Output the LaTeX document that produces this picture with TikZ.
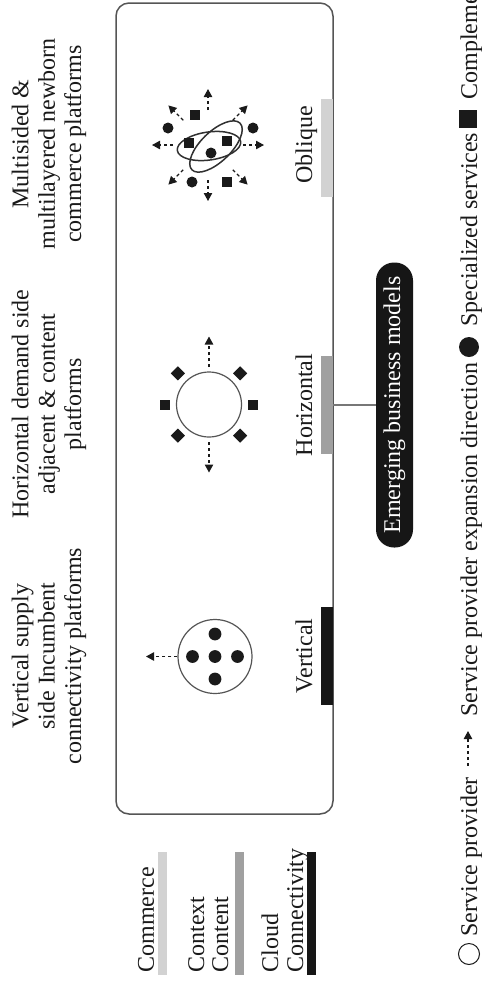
\documentclass[tikz,border=0pt]{standalone}
\usepackage{fontspec}
\setmainfont{Liberation Serif}
\usetikzlibrary{arrows.meta,calc}
\definecolor{ink}{HTML}{1A1A1A}
\definecolor{lgray}{HTML}{D2D2D2}
\definecolor{mgray}{HTML}{A0A0A0}
\definecolor{bgray}{HTML}{161616}
\definecolor{edge}{HTML}{555555}
\begin{document}
\begin{tikzpicture}[x=0.5pt,y=-0.5pt,
  txt/.style={rotate=90, inner sep=0pt, font=\fontsize{12}{13.2}\selectfont, text=ink},
  exparrow/.style={draw=ink, line width=0.6pt, dash pattern=on 1.6pt off 1.4pt, -{Triangle[length=4pt,width=4.2pt]}},
  sqm/.style={rectangle, fill=ink, minimum size=5pt, inner sep=0pt},
  dmm/.style={sqm, rotate=45},
  dotm/.style={circle, fill=ink, minimum size=5.5pt, inner sep=0pt},
  bigdot/.style={circle, fill=ink, minimum size=6.4pt, inner sep=0pt},
  ell/.style={draw=ink!90, line width=0.75pt},
  ring/.style={circle, draw=edge, line width=0.6pt, inner sep=0pt},
  barm/.style={rectangle, inner sep=0pt, minimum width=6pt, minimum height=49pt},
  legbar/.style={rectangle, inner sep=0pt, minimum width=4.5pt, minimum height=61.5pt},
  conn/.style={draw=edge!80, line width=0.8pt}]
\useasboundingbox (0,0) rectangle (482,982);
\clip (0,0) rectangle (482,982);
\fill[white] (0,0) rectangle (482,982);

% main frame
\node[draw=edge, line width=0.75pt, rounded corners=6.5pt, minimum width=108.5pt, minimum height=405.5pt, inner sep=0pt] (frame) at (224.5,408.5) {};

% top labels
\node[txt, align=center] (tl1) at (49,144) {Multisided \&\\multilayered newborn\\commerce platforms};
\node[txt, align=center] (tl2) at (49,404) {Horizontal demand side\\adjacent \& content\\platforms};
\node[txt, align=center] (tl3) at (49,656) {Vertical supply\\side Incumbent\\connectivity platforms};

% bars on the frame
\node[barm, fill=lgray] (obar) at (327,147.5) {};
\node[barm, fill=mgray] (hbar) at (327,405) {};
\node[barm, fill=bgray] (vbar) at (327,656) {};
\node[txt, anchor=base] (lob) at (312,145) {Oblique};
\node[txt, anchor=base] (lhz) at (312,405) {Horizontal};
\node[txt, anchor=base] (lvt) at (312,656) {Vertical};

% pill
\node[rotate=90, fill=bgray, text=white, rounded corners=9pt, minimum width=142.5pt, minimum height=18.5pt, inner sep=0pt, font=\fontsize{12}{13.2}\selectfont] (pill) at (394.5,405) {Emerging business models};
\draw[conn] (hbar.east) -- (pill.north);

% oblique icon
\coordinate (ob) at (208,145);
\draw[ell, rotate around={8:(209,146)}] (209,146) ellipse [x radius=32, y radius=14];
\draw[ell, rotate around={44:(216,146.5)}] (216,146.5) ellipse [x radius=33.5, y radius=15];
\foreach \a in {0,45,...,315}{
  \draw[exparrow] ($(ob)+(\a:35)$) -- ($(ob)+(\a:56)$);
}
\foreach \p [count=\i] in {(195,115),(189,143),(227,141),(227,182)}{
  \node[sqm] (osq\i) at \p {};
}
\foreach \p [count=\i] in {(168,128),(253,128),(211,153),(192,182)}{
  \node[dotm] (odt\i) at \p {};
}

% horizontal icon
\coordinate (hz) at (209,404.5);
\node[ring, minimum size=32.5pt] (hcirc) at (hz) {};
\foreach \a in {90,270}{
  \draw[exparrow] ($(hz)+(\a:37.5)$) -- ($(hz)+(\a:68)$);
}
\node[sqm] (hsq1) at ($(hz)+(0:44)$) {};
\node[sqm] (hsq2) at ($(hz)+(180:44)$) {};
\foreach \a [count=\i] in {45,135,225,315}{
  \node[dmm] (hdm\i) at ($(hz)+(\a:44)$) {};
}

% vertical icon
\coordinate (vt) at (215,656.5);
\node[ring, minimum size=37pt] (vcirc) at (vt) {};
\node[bigdot] (vd0) at (vt) {};
\foreach \a [count=\i] in {0,90,180,270}{
  \node[bigdot] (vd\i) at ($(vt)+(\a:22.5)$) {};
}
\draw[exparrow] (vcirc.west) -- ($(vt)+(180:69)$);

% left legend
\node[txt, anchor=base west] (lg1) at (154,973) {Commerce};
\node[txt, anchor=base west] (lg2) at (204,973) {Context};
\node[txt, anchor=base west] (lg3) at (228,973) {Content};
\node[txt, anchor=base west] (lg4) at (278,973) {Cloud};
\node[txt, anchor=base west] (lg5) at (303,973) {Connectivity};
\node[legbar, fill=lgray] (lb1) at (162.5,913.5) {};
\node[legbar, fill=mgray] (lb2) at (239,913.5) {};
\node[legbar, fill=bgray] (lb3) at (311,913.5) {};

% bottom legend line
\node[circle, draw=ink, line width=0.5pt, minimum size=10.5pt, inner sep=0pt] (ksp) at (469,954) {};
\node[txt, anchor=base west] (kspt) at (477,937) {Service provider};
\coordinate (ka1) at (468,766);
\coordinate (ka2) at (468,731);
\draw[exparrow] (ka1) -- (ka2);
\node[txt, anchor=base west] (kexp) at (477,717) {Service provider expansion direction};
\node[circle, fill=ink, minimum size=10pt, inner sep=0pt] (kdot) at (469,347) {};
\node[txt, anchor=base west] (kspec) at (477,327) {Specialized services};
\node[rectangle, fill=ink, minimum size=9pt, inner sep=0pt] (ksq) at (468,119) {};
\node[txt, anchor=base west] (kcomp) at (477,100) {Complementary services};
\end{tikzpicture}
\end{document}
